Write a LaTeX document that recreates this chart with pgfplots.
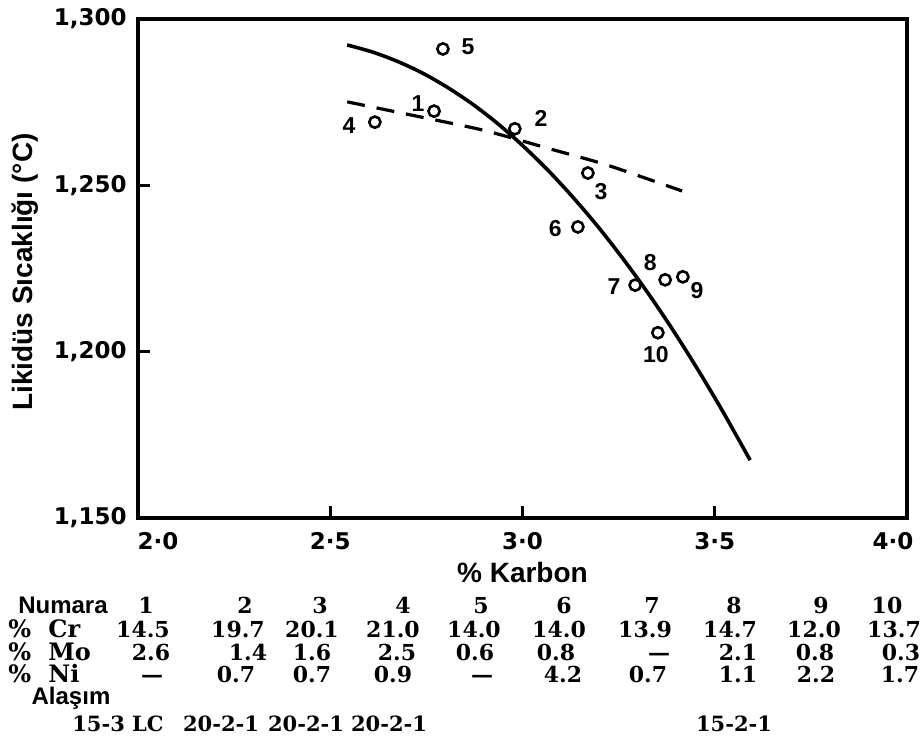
\documentclass[border=0pt]{standalone}
\usepackage{fontspec}
\usepackage{pgfplots}
\pgfplotsset{compat=1.18}
\setmainfont{Liberation Sans}
\newfontfamily\tickfont{DejaVu Sans}
\newfontfamily\tabfont{DejaVu Serif}
\tikzset{ptlbl/.style={font=\bfseries\fontsize{11.5}{12}\selectfont, inner sep=0pt}}
\begin{document}
\begin{tikzpicture}
\begin{axis}[
  at={(69pt,-259pt)}, anchor=south west,
  scale only axis, width=384.5pt, height=249.5pt,
  xmin=2, xmax=4, ymin=1150, ymax=1300,
  axis line style={line width=2.4pt},
  xtick={2,2.5,3,3.5,4},
  xticklabels={{\hspace{20pt}2·0},{2·5},{3·0},{3·5},{4·0\hbox to 14pt{}}},
  ytick={1150,1200,1250,1300},
  yticklabels={{1,150},{1,200},{1,250},{1,300}},
  tick pos=left, tick align=inside,
  major tick length=6pt,
  every tick/.style={black, line width=1.6pt},
  xticklabel style={font=\tickfont\bfseries\fontsize{11.5}{12}\selectfont, anchor=center, yshift=-11.5pt},
  yticklabel style={font=\tickfont\bfseries\fontsize{11.5}{12}\selectfont, anchor=east, inner sep=0pt, xshift=-5.5pt},
  xlabel={\% Karbon},
  ylabel={Likidüs Sıcaklığı (°C)},
  xlabel style={at={(axis description cs:0.5,-0.11)}, anchor=center, font=\bfseries\fontsize{14}{16}\selectfont},
  ylabel style={at={(axis description cs:-0.147,0.493)}, anchor=center, font=\bfseries\fontsize{14}{16}\selectfont},
  clip=false,
]
% solid curve
\addplot[black, line width=1.8pt, smooth, tension=0.5] coordinates {
  (2.544,1292.2) (2.609,1290.1) (2.674,1287.3) (2.739,1283.8) (2.804,1279.5)
  (2.869,1274.5) (2.934,1268.7) (2.999,1262.1) (3.064,1254.8) (3.129,1246.7)
  (3.194,1237.9) (3.259,1228.3) (3.324,1218.0) (3.389,1206.9) (3.454,1195.0)
  (3.519,1182.4) (3.592,1167.4)
};
% dashed line
\addplot[black, line width=1.6pt, dash pattern=on 9pt off 6pt, smooth, tension=0.4] coordinates {
  (2.544,1275.1) (2.674,1272.0) (2.897,1266.6) (3.064,1261.2) (3.220,1256.1) (3.415,1248.3)
};
% data points
\addplot[black, only marks, mark=o, mark size=2.8pt, mark options={line width=1.3pt}] coordinates {
  (2.770,1272.3) (2.980,1267.0) (3.170,1253.7) (2.616,1269.0) (2.793,1291.0)
  (3.144,1237.5) (3.293,1220.0) (3.371,1221.6) (3.417,1222.5) (3.352,1205.7)
};
\node[ptlbl] at (axis cs:2.728,1274.5) {1};
\node[ptlbl] at (axis cs:3.048,1270.2) {2};
\node[ptlbl] at (axis cs:3.204,1248.0) {3};
\node[ptlbl] at (axis cs:2.549,1268.1) {4};
\node[ptlbl] at (axis cs:2.858,1291.6) {5};
\node[ptlbl] at (axis cs:3.085,1236.9) {6};
\node[ptlbl] at (axis cs:3.238,1219.5) {7};
\node[ptlbl] at (axis cs:3.332,1226.7) {8};
\node[ptlbl] at (axis cs:3.454,1218.5) {9};
\node[ptlbl] at (axis cs:3.347,1199.0) {10};
\end{axis}
\begin{scope}[x=0.5pt, y=-0.5pt,
  tab/.style={font=\tabfont\bfseries\fontsize{11}{12}\selectfont, inner sep=0pt, text height=8pt, text depth=0pt},
  alloy/.style={font=\tabfont\bfseries\fontsize{10.5}{12}\selectfont, inner sep=0pt, text height=7.7pt, text depth=0pt},
  row/.style={font=\tabfont\bfseries\fontsize{12}{13}\selectfont, inner sep=0pt, anchor=west, text height=8.7pt, text depth=0pt},
  sans/.style={font=\bfseries\fontsize{12}{13}\selectfont, inner sep=0pt, text height=8.6pt, text depth=0pt}]
% row labels
\node[sans] at (63,605) {Numara};
\node[row] at (8,629) {\%}; \node[row] at (48,629) {Cr};
\node[row] at (8,652) {\%}; \node[row] at (48,652) {Mo};
\node[row] at (8,674) {\%}; \node[row] at (48,674) {Ni};
\node[sans] at (71,696) {Alaşım};
% Numara
\node[tab] at (146,605) {1};
\node[tab] at (245,605) {2};
\node[tab] at (320,605) {3};
\node[tab] at (403,605) {4};
\node[tab] at (481,605) {5};
\node[tab] at (564,605) {6};
\node[tab] at (652,605) {7};
\node[tab] at (734,605) {8};
\node[tab] at (821,605) {9};
\node[tab] at (887,605) {10};
% Cr
\node[tab] at (143,629) {14.5};
\node[tab] at (238,629) {19.7};
\node[tab] at (312,629) {20.1};
\node[tab] at (393,629) {21.0};
\node[tab] at (474,629) {14.0};
\node[tab] at (559,629) {14.0};
\node[tab] at (645,629) {13.9};
\node[tab] at (730,629) {14.7};
\node[tab] at (814,629) {12.0};
\node[tab] at (894,629) {13.7};
% Mo
\node[tab] at (151,652) {2.6};
\node[tab] at (248,652) {1.4};
\node[tab] at (312,652) {1.6};
\node[tab] at (397,652) {2.5};
\node[tab] at (475,652) {0.6};
\node[tab] at (556,652) {0.8};
\node[tab] at (659,652) {—};
\node[tab] at (738,652) {2.1};
\node[tab] at (815,652) {0.8};
\node[tab] at (901,652) {0.3};
% Ni
\node[tab] at (152,674) {—};
\node[tab] at (236,674) {0.7};
\node[tab] at (312,674) {0.7};
\node[tab] at (393,674) {0.9};
\node[tab] at (482,674) {—};
\node[tab] at (563,674) {4.2};
\node[tab] at (648,674) {0.7};
\node[tab] at (738,674) {1.1};
\node[tab] at (816,674) {2.2};
\node[tab] at (900,674) {1.7};
% alloys
\node[alloy] at (118,724) {15-3 LC};
\node[alloy] at (221,724) {20-2-1};
\node[alloy] at (306,724) {20-2-1};
\node[alloy] at (389,724) {20-2-1};
\node[alloy] at (734,724) {15-2-1};
\pgfresetboundingbox
\path[use as bounding box] (0,0) rectangle (924,738);
\end{scope}
\end{tikzpicture}
\end{document}
